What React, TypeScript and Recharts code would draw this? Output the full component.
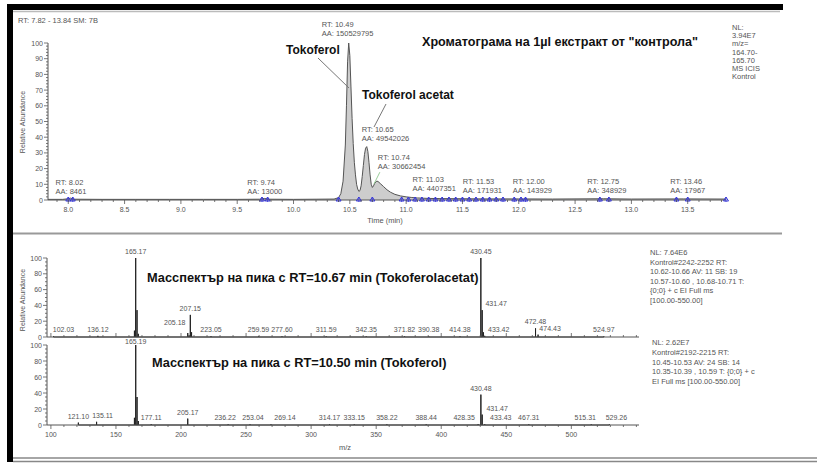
import React from 'react';
import { ComposedChart, Area, Line, Scatter, XAxis, YAxis } from 'recharts';

// ---- chromatogram (TIC, m/z 164.70-165.70) ----
const chromTime = [
  7.82, 7.95, 8.0, 8.02, 8.05, 8.3, 8.6, 8.9, 9.2, 9.5, 9.7, 9.74, 9.78, 10.0, 10.2, 10.36,
  10.4, 10.42, 10.44, 10.46, 10.47, 10.48, 10.49, 10.5, 10.51, 10.52, 10.53, 10.54, 10.55,
  10.56, 10.57, 10.58, 10.59, 10.6, 10.61, 10.62, 10.63, 10.64, 10.65, 10.66, 10.67, 10.68,
  10.69, 10.7, 10.71, 10.72, 10.73, 10.74, 10.75, 10.77, 10.8, 10.83, 10.86, 10.9, 10.95,
  11.0, 11.05, 11.1, 11.2, 11.3, 11.5, 11.7, 12.0, 12.3, 12.75, 13.0, 13.46, 13.84,
];
const chromAbund = [
  0.4, 0.4, 0.8, 1.2, 0.5, 0.4, 0.4, 0.4, 0.4, 0.4, 0.5, 1.0, 0.5, 0.4, 0.5, 0.6,
  1.5, 4, 12, 35, 60, 88, 100, 92, 72, 52, 36, 24, 16,
  10, 7, 5.5, 6, 9, 15, 22, 29, 33, 34, 31, 24, 16,
  10, 8, 9, 10.5, 11.5, 12, 11.8, 10.5, 8.5, 6.5, 5, 3.6, 2.6,
  2, 1.6, 1.3, 1.0, 0.9, 0.8, 0.7, 0.7, 0.6, 0.8, 0.6, 0.7, 0.6,
];
const markerTimes = [
  8.0, 8.04, 9.72, 9.77, 10.4, 10.58, 10.7, 10.96, 11.02, 11.08, 11.14, 11.2, 11.26, 11.32,
  11.38, 11.44, 11.5, 11.56, 11.62, 11.68, 11.74, 11.8, 11.86, 11.96, 12.02, 12.06, 12.72,
  12.8, 13.4, 13.5, 13.84,
];
const rtPeakTimes = [8.02, 9.74, 10.49, 10.65, 10.74, 11.03, 11.53, 12.0, 12.75, 13.46];
const rtPeakHeights = [1.2, 1.0, 100, 34, 12, 2, 0.8, 0.7, 0.8, 0.7];
const rtPeakAreas = ['8461', '13000', '150529795', '49542026', '30662454', '4407351', '171931', '143929', '348929', '17967'];
const rtLabelDx = [-15, -17, -27, -5, 1, 3, -3, -6, -16, -13];
const rtLabelDy = [-13, -13, -16, -15, -21, -15, -15, -15, -15, -15];

const chromMajorTicks = [8.0, 8.5, 9.0, 9.5, 10.0, 10.5, 11.0, 11.5, 12.0, 12.5, 13.0, 13.5];
const chromXTicks = Array.from({ length: 60 }, (_, i) => +(7.9 + i * 0.1).toFixed(1));
const chromYMajor = [0, 10, 20, 30, 40, 50, 60, 70, 80, 90, 100];
const chromYTicks = Array.from({ length: 51 }, (_, i) => i * 2);

// ---- mass spectra ----
const spec1Mz = [102.03, 136.12, 164.2, 165.17, 166.2, 167.2, 205.18, 206.2, 207.15, 208.1, 223.05, 259.59,
  277.6, 311.59, 342.35, 371.82, 390.38, 414.38, 430.45, 431.47, 432.4, 433.42, 472.48, 474.43, 524.97];
const spec1Int = [1.2, 1.5, 8, 100, 34, 4, 5, 2, 28, 6, 1, 0.8,
  0.8, 0.8, 0.8, 0.8, 0.8, 0.8, 100, 34, 6, 1.5, 11, 3, 0.8];
const spec1Labels = ['102.03', '136.12', '', '165.17', '', '', '205.18', '', '207.15', '', '223.05', '259.59',
  '277.60', '311.59', '342.35', '371.82', '390.38', '414.38', '430.45', '431.47', '', '433.42', '472.48', '474.43', '524.97'];

const spec2Mz = [121.1, 135.11, 164.2, 165.19, 166.2, 167.2, 177.11, 205.17, 236.22, 253.04, 269.14, 314.17,
  333.15, 358.22, 388.44, 428.35, 430.48, 431.47, 433.43, 467.31, 515.31, 529.26];
const spec2Int = [3, 4, 9, 100, 35, 5, 1, 8, 0.8, 0.8, 0.8, 0.8,
  0.8, 0.8, 0.8, 1, 38, 13, 1, 0.8, 0.8, 0.8];
const spec2Labels = ['121.10', '135.11', '', '165.19', '', '', '177.11', '205.17', '236.22', '253.04', '269.14', '314.17',
  '333.15', '358.22', '388.44', '428.35', '430.48', '431.47', '433.43', '467.31', '515.31', '529.26'];

const specXMajor = [100, 150, 200, 250, 300, 350, 400, 450, 500];
const specXTicks = Array.from({ length: 46 }, (_, i) => 100 + i * 10);
const specYMajor = [0, 20, 40, 60, 80, 100];
const specYTicks = Array.from({ length: 21 }, (_, i) => i * 5);

// label nudges (style only)
const spec1Shift: Record<string, { dx: number; dy: number }> = {
  '102.03': { dx: 10, dy: 0 },
  '205.18': { dx: -13, dy: -4 },
  '431.47': { dx: 14, dy: 0 },
  '433.42': { dx: 14, dy: 0 },
  '474.43': { dx: 12, dy: 0 },
};
const spec2Shift: Record<string, { dx: number; dy: number }> = {
  '135.11': { dx: 6, dy: 0 },
  '165.19': { dx: 0, dy: 2.5 },
  '236.22': { dx: -3, dy: 0 },
  '253.04': { dx: 3, dy: 0 },
  '269.14': { dx: 14, dy: 0 },
  '428.35': { dx: -14, dy: 0 },
  '431.47': { dx: 15, dy: 0 },
  '433.43': { dx: 16, dy: 0 },
  '515.31': { dx: -6, dy: 0 },
  '529.26': { dx: 7, dy: 0 },
};

const FONT = 'Arial, "Liberation Sans", sans-serif';
const TXT = '#555';

const chromData = chromTime.map((t, i) => ({ t, a: chromAbund[i] }));
const markerData = markerTimes.map((t) => ({ t, m: 0 }));
const rtData = rtPeakTimes.map((t, i) => ({ t, h: rtPeakHeights[i], aa: rtPeakAreas[i], idx: i }));

const sticks = (mz: number[], ints: number[]) =>
  mz.flatMap((m, i) => [{ mz: m, i: 0 }, { mz: m, i: ints[i] }, { mz: m, i: 0 }]);
const peaks = (mz: number[], ints: number[], labels: string[]) =>
  mz.map((m, i) => ({ mz: m, i: ints[i], label: labels[i] })).filter((p) => p.label);

const near = (arr: number[], v: number) => arr.some((m) => Math.abs(m - v) < 1e-6);

// dir = 1 ticks hang below the axis, -1 ticks point up into the plot
const makeXTick = (major: number[], showLabel: boolean, digits: number, dir = 1) => (props: any) => {
  const { x, y, payload } = props;
  const isMajor = near(major, payload.value);
  return (
    <g>
      <line x1={x} x2={x} y1={y} y2={y + dir * (isMajor ? 4 : 2)} stroke="#555" strokeWidth={0.8} />
      {isMajor && showLabel && (
        <text x={x} y={y + 12} textAnchor="middle" fontSize={7} fill={TXT} fontFamily={FONT}>
          {payload.value.toFixed(digits)}
        </text>
      )}
    </g>
  );
};

const makeYTick = (major: number[]) => (props: any) => {
  const { x, y, payload } = props;
  const isMajor = near(major, payload.value);
  return (
    <g>
      <line x1={x} x2={x - (isMajor ? 4 : 2)} y1={y} y2={y} stroke="#555" strokeWidth={0.8} />
      {isMajor && (
        <text x={x - 5} y={y + 2.5} textAnchor="end" fontSize={7} fill={TXT} fontFamily={FONT}>
          {payload.value}
        </text>
      )}
    </g>
  );
};

const Marker = (props: any) => {
  const { cx, cy } = props;
  return (
    <g>
      <path d={`M${cx - 2.5},${cy + 1} L${cx},${cy - 3} L${cx + 2.5},${cy + 1} Z`} fill="none" stroke="#3636d8" strokeWidth={1} />
      <line x1={cx} x2={cx} y1={cy - 3} y2={cy + 2} stroke="#3636d8" strokeWidth={0.8} />
    </g>
  );
};

const RtLabel = (props: any) => {
  const { cx, cy, payload } = props;
  const i = payload.idx;
  const x = cx + rtLabelDx[i];
  const y = cy + rtLabelDy[i];
  return (
    <g fontFamily={FONT} fontSize={7.5} fill={TXT}>
      {i === 4 && <line x1={x + 2} y1={y + 12} x2={cx - 3} y2={cy + 3} stroke="#7fbf7f" strokeWidth={0.8} />}
      <text x={x} y={y}>RT: {payload.t.toFixed(2)}</text>
      <text x={x} y={y + 9}>AA: {payload.aa}</text>
    </g>
  );
};

const makePeakLabel = (shift: Record<string, { dx: number; dy: number }>) => (props: any) => {
  const { cx, cy, payload } = props;
  const s = shift[payload.label] || { dx: 0, dy: 0 };
  return (
    <text x={cx + s.dx} y={cy - 4 + s.dy} textAnchor="middle" fontSize={7} fill={TXT} fontFamily={FONT}>
      {payload.label}
    </text>
  );
};

const Overlay = () => (
  <svg width={817} height={464} style={{ position: 'absolute', left: 0, top: 0, pointerEvents: 'none' }}>
    {/* frame */}
    <rect x={7} y={4} width={776} height={6} fill="#000" />
    <line x1={13} x2={780} y1={11.5} y2={11.5} stroke="#bbb" strokeWidth={1.5} />
    <rect x={7} y={4} width={6} height={458} fill="#000" />
    <line x1={13} x2={782} y1={233.5} y2={233.5} stroke="#999" strokeWidth={2} />
    <line x1={13} x2={817} y1={458} y2={458} stroke="#888" strokeWidth={1.5} />
    <line x1={13} x2={817} y1={461.5} y2={461.5} stroke="#888" strokeWidth={1.5} />

    <g fontFamily={FONT} fontSize={7.5} fill={TXT}>
      <text x={18} y={23}>RT: 7.82 - 13.84   SM: 7B</text>
      {['NL:', '3.94E7', 'm/z=', '164.70-', '165.70', 'MS  ICIS', 'Kontrol'].map((s, i) => (
        <text key={s} x={732} y={30 + i * 8.2}>{s}</text>
      ))}
      {['NL: 7.64E6', 'Kontrol#2242-2252  RT:', '10.62-10.66  AV: 11  SB: 19', '10.57-10.60 ,  10.68-10.71  T:', '{0;0}  + c EI Full ms', '[100.00-550.00]'].map((s, i) => (
        <text key={s} x={650} y={255 + i * 9.6}>{s}</text>
      ))}
      {['NL: 2.62E7', 'Kontrol#2192-2215  RT:', '10.45-10.53  AV: 24  SB: 14', '10.35-10.39 ,  10.59  T: {0;0}  + c', 'EI Full ms [100.00-550.00]'].map((s, i) => (
        <text key={s} x={652} y={345 + i * 9.8}>{s}</text>
      ))}
      <text x={385} y={223} textAnchor="middle">Time (min)</text>
      <text x={345} y={450} textAnchor="middle">m/z</text>
      <text transform="translate(25,122) rotate(-90)" textAnchor="middle" fontSize={7}>Relative Abundance</text>
      <text transform="translate(25,300) rotate(-90)" textAnchor="middle" fontSize={7}>Relative Abundance</text>
    </g>

    <g fontFamily={FONT} fontWeight="bold" fill="#111">
      <text x={422} y={46} fontSize={12.6}>Хроматограма на 1µl екстракт от "контрола"</text>
      <text x={286} y={54} fontSize={12}>Tokoferol</text>
      <text x={362} y={99} fontSize={12}>Tokoferol acetat</text>
      <text x={147} y={282} fontSize={12.8}>Масспектър на пика с RT=10.67 min  (Tokoferolacetat)</text>
      <text x={152} y={367} fontSize={12.8}>Масспектър на пика с RT=10.50 min  (Tokoferol)</text>
    </g>
    <line x1={318} y1={58} x2={349} y2={88} stroke="#777" strokeWidth={1} />
    <line x1={386} y1={104} x2={374} y2={127} stroke="#777" strokeWidth={1} />
  </svg>
);

const App = () => {
  const spec1Data = sticks(spec1Mz, spec1Int);
  const spec2Data = sticks(spec2Mz, spec2Int);
  return (
    <div style={{ position: 'absolute', left: 0, top: 0, width: 817, height: 464, background: '#fff', overflow: 'hidden' }}>
      {/* chromatogram */}
      <div style={{ position: 'absolute', left: 0, top: 0 }}>
        <ComposedChart width={817} height={235} data={chromData} margin={{ top: 43, right: 91, left: 18, bottom: 15 }}>
          <XAxis dataKey="t" type="number" domain={[7.82, 13.84]} ticks={chromXTicks} interval={0}
            tickSize={0} tickMargin={0} tickLine={false} height={20} axisLine={{ stroke: '#555' }}
            tick={makeXTick(chromMajorTicks, true, 1)} />
          <YAxis type="number" domain={[0, 100]} ticks={chromYTicks} interval={0}
            tickSize={0} tickMargin={0} tickLine={false} width={30} axisLine={{ stroke: '#555' }}
            tick={makeYTick(chromYMajor)} />
          <Area dataKey="a" type="linear" stroke="#555" strokeWidth={1} fill="#cdcdcd" fillOpacity={1} isAnimationActive={false} dot={false} activeDot={false} />
          <Scatter data={markerData} dataKey="m" shape={Marker} isAnimationActive={false} />
          <Scatter data={rtData} dataKey="h" shape={RtLabel} isAnimationActive={false} />
        </ComposedChart>
      </div>

      {/* spectrum 1 */}
      <div style={{ position: 'absolute', left: 0, top: 240 }}>
        <ComposedChart width={817} height={105} data={spec1Data} margin={{ top: 18, right: 178, left: 17, bottom: 0 }}>
          <XAxis dataKey="mz" type="number" domain={[97, 552]} ticks={specXTicks} interval={0}
            tickSize={0} tickMargin={0} tickLine={false} height={8} axisLine={{ stroke: '#555' }}
            tick={makeXTick(specXMajor, false, 0, -1)} />
          <YAxis type="number" domain={[0, 100]} ticks={specYTicks} interval={0}
            tickSize={0} tickMargin={0} tickLine={false} width={30} axisLine={{ stroke: '#555' }}
            tick={makeYTick(specYMajor)} />
          <Line dataKey="i" type="linear" stroke="#222" strokeWidth={1} dot={false} activeDot={false} isAnimationActive={false} />
          <Scatter data={peaks(spec1Mz, spec1Int, spec1Labels)} dataKey="i" shape={makePeakLabel(spec1Shift)} isAnimationActive={false} />
        </ComposedChart>
      </div>

      {/* spectrum 2 */}
      <div style={{ position: 'absolute', left: 0, top: 330 }}>
        <ComposedChart width={817} height={125} data={spec2Data} margin={{ top: 15, right: 178, left: 17, bottom: 10 }}>
          <XAxis dataKey="mz" type="number" domain={[97, 552]} ticks={specXTicks} interval={0}
            tickSize={0} tickMargin={0} tickLine={false} height={20} axisLine={{ stroke: '#555' }}
            tick={makeXTick(specXMajor, true, 0)} />
          <YAxis type="number" domain={[0, 100]} ticks={specYTicks} interval={0}
            tickSize={0} tickMargin={0} tickLine={false} width={30} axisLine={{ stroke: '#555' }}
            tick={makeYTick(specYMajor)} />
          <Line dataKey="i" type="linear" stroke="#222" strokeWidth={1} dot={false} activeDot={false} isAnimationActive={false} />
          <Scatter data={peaks(spec2Mz, spec2Int, spec2Labels)} dataKey="i" shape={makePeakLabel(spec2Shift)} isAnimationActive={false} />
        </ComposedChart>
      </div>

      <Overlay />
    </div>
  );
};

export default App;
